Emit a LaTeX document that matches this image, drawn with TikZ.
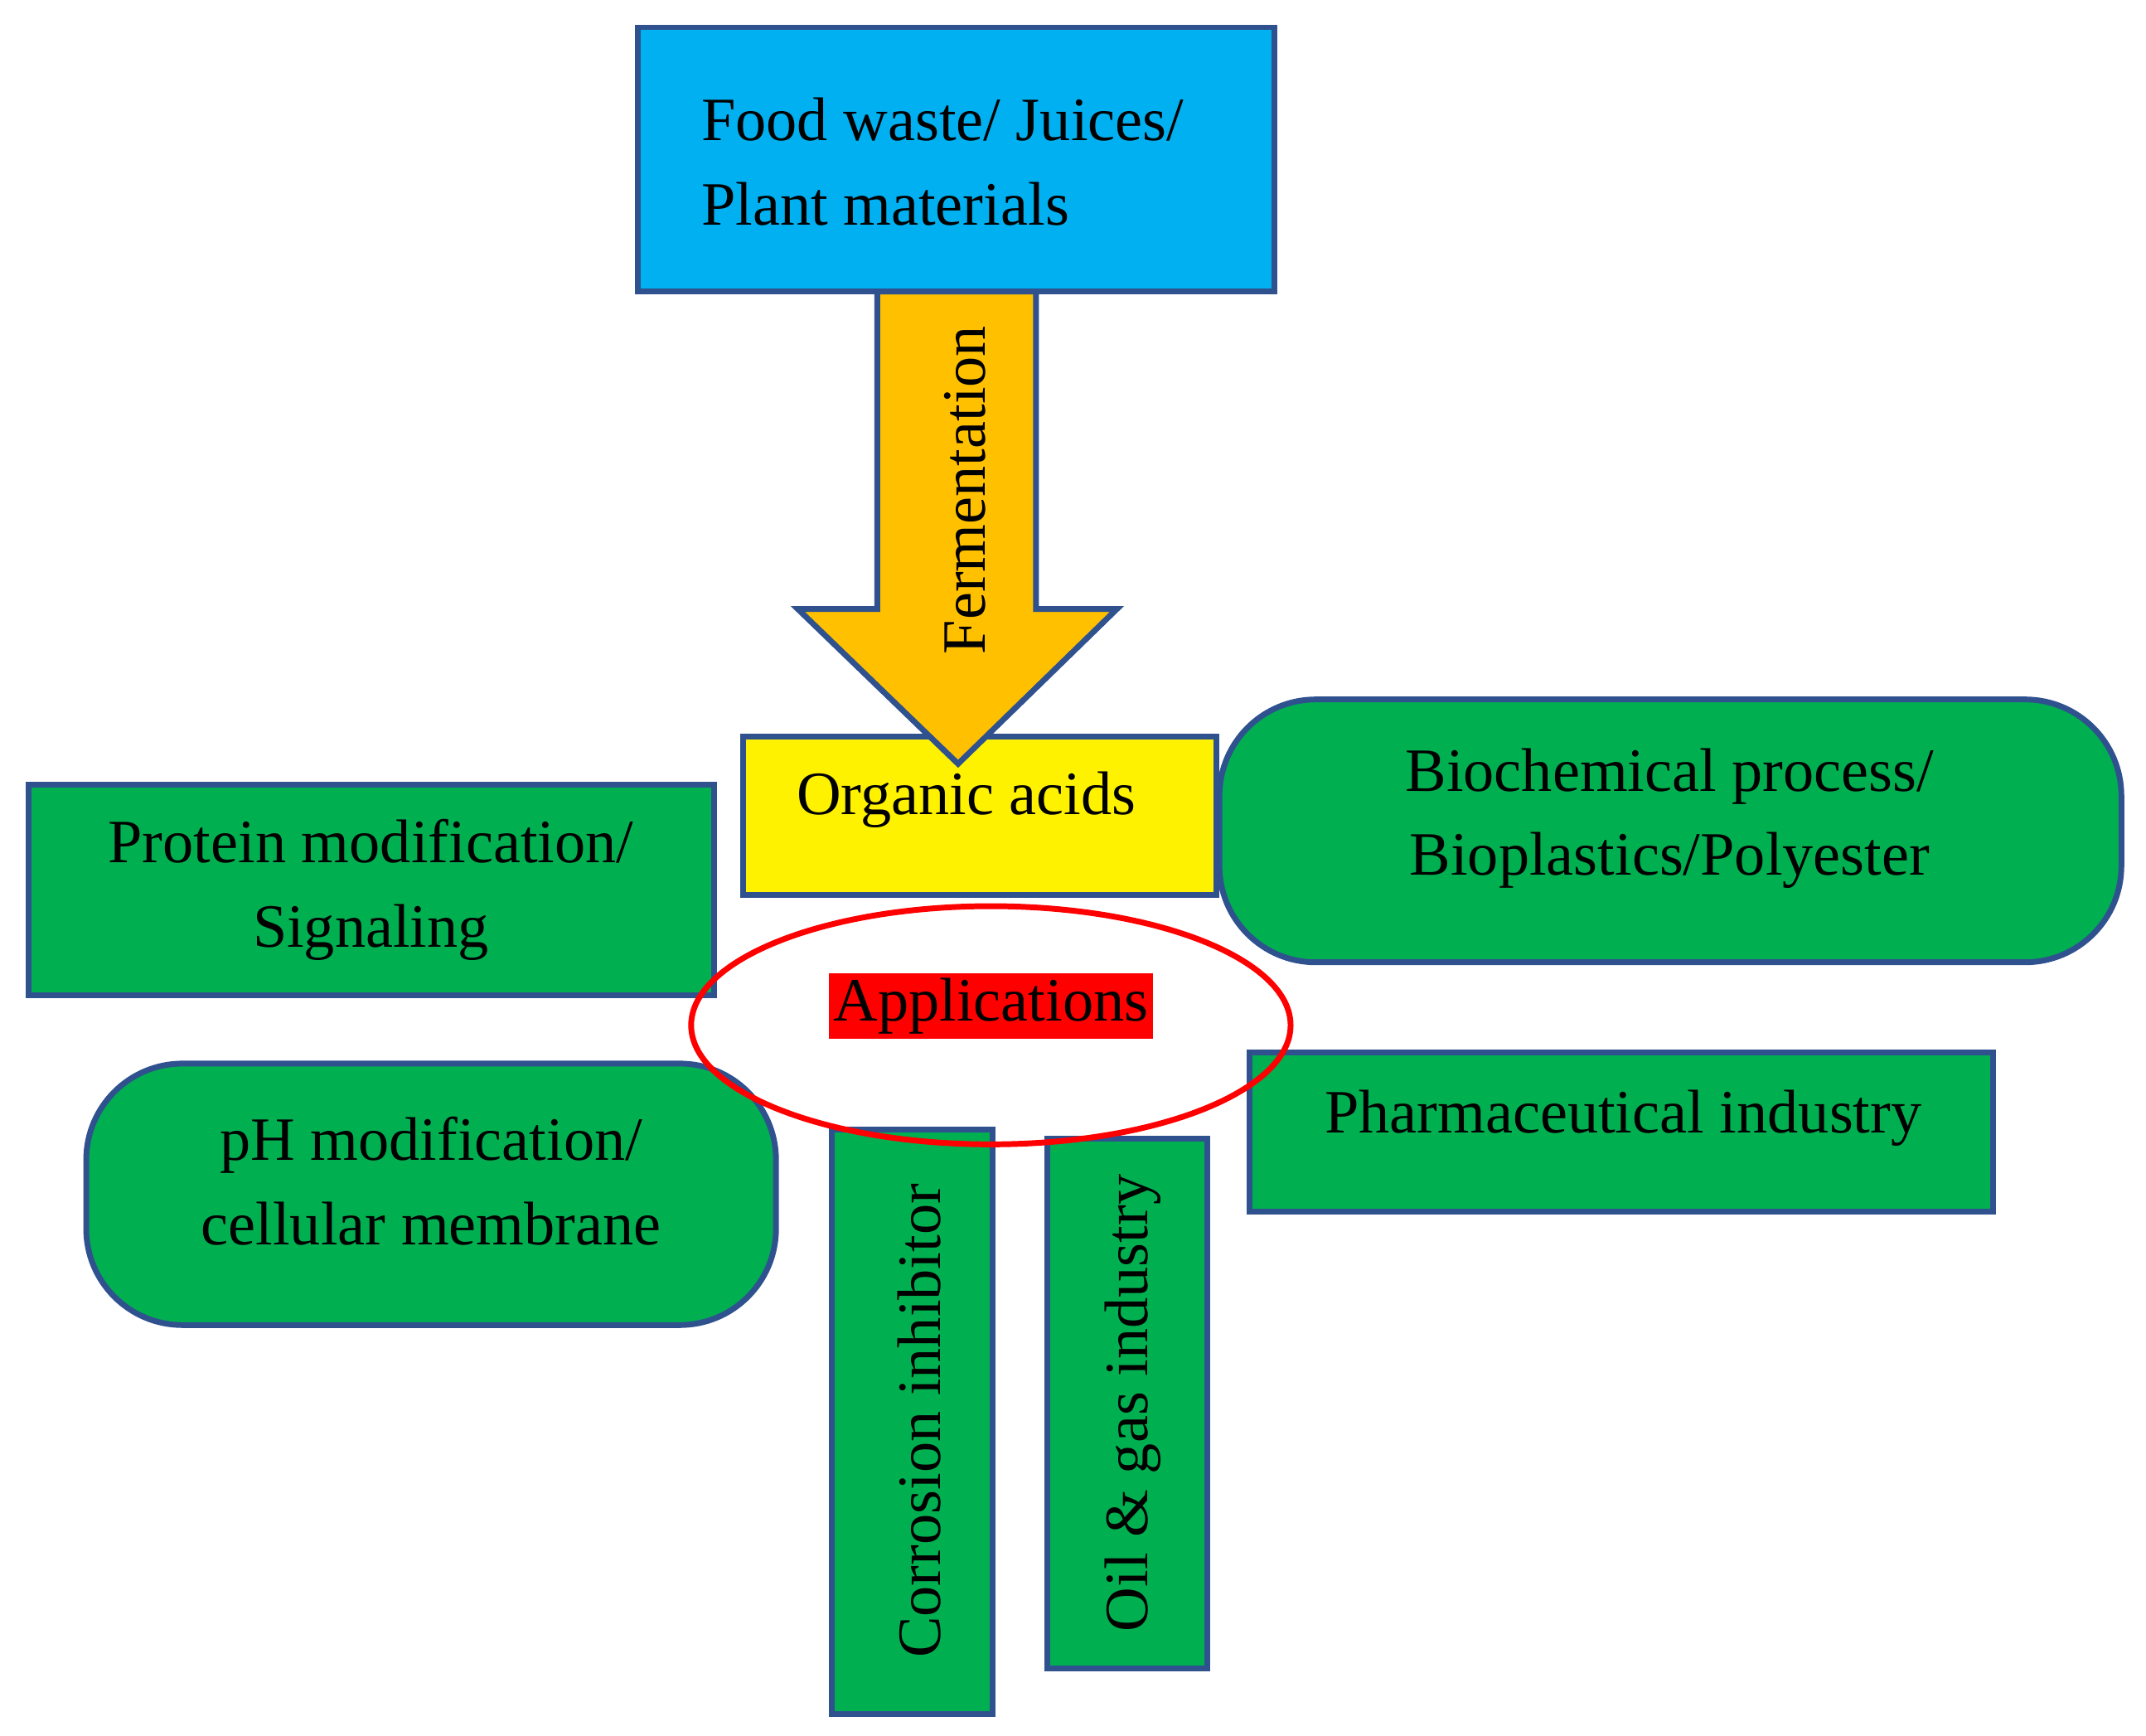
\documentclass[tikz,border=0pt]{standalone}
\usepackage{fontspec}
\setmainfont{Liberation Serif}
\usetikzlibrary{positioning}
\definecolor{skyblue}{HTML}{00B0F0}
\definecolor{leaf}{HTML}{00B050}
\definecolor{amber}{HTML}{FFC000}
\definecolor{edgeblue}{HTML}{2F528F}
\begin{document}
\begin{tikzpicture}[x=0.01cm,y=-0.01cm,
    box/.style={draw=edgeblue, line width=1.2pt, fill=leaf, inner sep=0pt},
    lbl/.style={font=\fontsize{12.8}{17.5}\selectfont, align=center}]
    \useasboundingbox (0,0) rectangle (1568,1268);

    % Source box
    \draw[box, fill=skyblue] (466,20) rectangle (931,213);
    \node[lbl, align=left, anchor=west] (food) at (500,118) {Food waste/ Juices/\\Plant materials};

    % Organic acids
    \draw[box, fill=yellow] (543,538) rectangle (889,654);
    \node[lbl] (acids) at (706,584) {Organic acids};

    % Fermentation arrow
    \draw[box, fill=amber] (641,213) -- (757,213) -- (757,445) -- (816,445)
        -- (700,558) -- (583,445) -- (641,445) -- cycle;
    \node[lbl, rotate=90] (ferm) at (705,358) {Fermentation};

    % Application boxes
    \draw[box] (21,573) rectangle (522,727);
    \node[lbl] (protein) at (271,650) {Protein modification/\\Signaling};
    \draw[box, rounded corners=20pt] (891,511) rectangle (1550,703);
    \node[lbl] (bio) at (1220,598) {Biochemical process/\\Bioplastics/Polyester};
    \draw[box, rounded corners=20pt] (63,777) rectangle (567,968);
    \node[lbl] (ph) at (315,863) {pH modification/\\cellular membrane};
    \draw[box] (608,825) rectangle (725,1252);
    \node[lbl, rotate=90] (corr) at (672,1038) {Corrosion inhibitor};
    \draw[box] (765,832) rectangle (882,1219);
    \node[lbl, rotate=90] (oil) at (828,1025) {Oil \& gas industry};
    \draw[box] (913,769) rectangle (1456,885);
    \node[lbl] (pharma) at (1186,817) {Pharmaceutical industry};

    % Centre
    \draw[red, line width=1.2pt] (724,749) ellipse [x radius=219, y radius=87];
    \node[lbl, fill=red, inner sep=1pt] (apps) at (724,735) {Applications};
\end{tikzpicture}
\end{document}
